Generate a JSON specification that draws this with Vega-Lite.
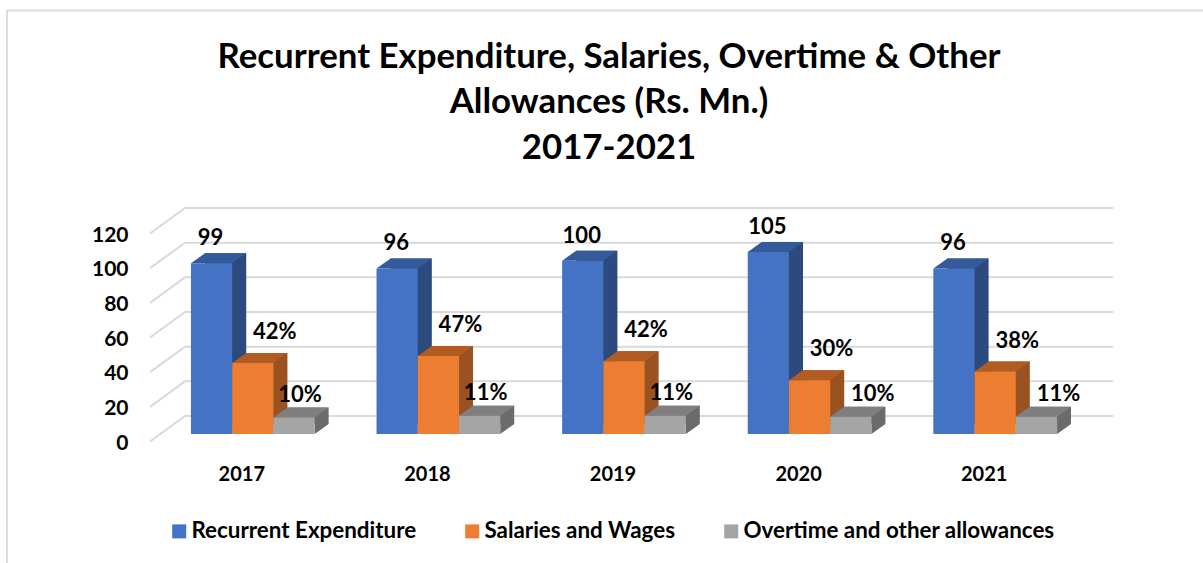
{
"$schema":"https://vega.github.io/schema/vega-lite/v6.json",
"width":928,"height":208,
"autosize":{"type":"none"},
"padding":{"left":160,"top":226,"right":115,"bottom":129},
"background":"white",
"title":{"text":["Recurrent Expenditure, Salaries, Overtime & Other","Allowances (Rs. Mn.)","2017-2021"],"font":"Lato","fontSize":34.8,"fontWeight":"bold","color":"#000000","anchor":"middle","dx":-15,"offset":-160,"lineHeight":45.5},
"datasets":{
"bars":[
{"year":"2017","series":"Recurrent Expenditure","value":98.5,"label":"99"},
{"year":"2017","series":"Salaries and Wages","value":41,"label":"42%"},
{"year":"2017","series":"Overtime and other allowances","value":9.5,"label":"10%"},
{"year":"2018","series":"Recurrent Expenditure","value":95.5,"label":"96"},
{"year":"2018","series":"Salaries and Wages","value":45,"label":"47%"},
{"year":"2018","series":"Overtime and other allowances","value":10.5,"label":"11%"},
{"year":"2019","series":"Recurrent Expenditure","value":100,"label":"100"},
{"year":"2019","series":"Salaries and Wages","value":42,"label":"42%"},
{"year":"2019","series":"Overtime and other allowances","value":10.5,"label":"11%"},
{"year":"2020","series":"Recurrent Expenditure","value":105,"label":"105"},
{"year":"2020","series":"Salaries and Wages","value":31,"label":"30%"},
{"year":"2020","series":"Overtime and other allowances","value":10,"label":"10%"},
{"year":"2021","series":"Recurrent Expenditure","value":95.5,"label":"96"},
{"year":"2021","series":"Salaries and Wages","value":36,"label":"38%"},
{"year":"2021","series":"Overtime and other allowances","value":10,"label":"11%"}
],
"ticks":[{"tick":0},{"tick":20},{"tick":40},{"tick":60},{"tick":80},{"tick":100},{"tick":120}],
"frame":[{"part":"outer frame"}]
},
"resolve":{"scale":{"color":"independent"}},
"layer":[
{"data":{"name":"frame"},"mark":{"type":"point","filled":false,"size":4,"stroke":"#dcdcdc","strokeWidth":2,"opacity":1,"shape":"M-617,233L-617,-319.5L579,-319.5"},"encoding":{}},
{"data":{"name":"ticks"},"mark":{"type":"point","filled":false,"size":4,"stroke":"#d9d9d9","strokeWidth":2,"opacity":1,"shape":"M-474,7.5L-439,-18L489,-18"},
 "encoding":{"y":{"field":"tick","type":"quantitative","title":null,"scale":{"domain":[0,120],"nice":false},"axis":{"values":[0,20,40,60,80,100,120],"tickCount":7,"labelOverlap":false}}}},
{"data":{"name":"bars"},"transform":[{"filter":"datum.series==='Recurrent Expenditure'"}],"mark":{"type":"bar","color":"#2c4a7e","width":{"band":0.3333},"xOffset":-27.2,"yOffset":-10,"y2Offset":-10},
 "encoding":{
 "x":{"field":"year","type":"nominal","scale":{"paddingInner":0.3333,"paddingOuter":0.1667},"axis":{"title":null,"domain":false,"ticks":false,"labelAngle":0,"labelFont":"Lato","labelFontSize":20,"labelFontWeight":"bold","labelColor":"#000000","labelOffset":-11,"labelPadding":30}},
 "y":{"field":"value","type":"quantitative","title":null,"axis":{"values":[0,20,40,60,80,100,120],"tickCount":7,"labelOverlap":false}}
 }},
{"data":{"name":"bars"},"transform":[{"filter":"datum.series==='Salaries and Wages'"}],"mark":{"type":"bar","color":"#9a5220","width":{"band":0.3333},"xOffset":14,"yOffset":-10,"y2Offset":-10},
 "encoding":{"x":{"field":"year","type":"nominal"},"y":{"field":"value","type":"quantitative","title":null,"axis":{"values":[0,20,40,60,80,100,120],"tickCount":7,"labelOverlap":false}}}},
{"data":{"name":"bars"},"transform":[{"filter":"datum.series==='Overtime and other allowances'"}],"mark":{"type":"bar","color":"#6b6b6b","width":{"band":0.3333},"xOffset":55.2,"yOffset":-10,"y2Offset":-10},
 "encoding":{"x":{"field":"year","type":"nominal"},"y":{"field":"value","type":"quantitative","title":null,"axis":{"values":[0,20,40,60,80,100,120],"tickCount":7,"labelOverlap":false}}}},
{"data":{"name":"bars"},"mark":{"type":"point","filled":true,"opacity":1,"size":4,"strokeWidth":0,"shape":"M20.6,0L34.6,-10L20.6,-10Z"},
 "encoding":{
 "x":{"field":"year","type":"nominal"},
 "xOffset":{"field":"series","type":"nominal","scale":{"domain":["Recurrent Expenditure","Salaries and Wages","Overtime and other allowances"],"paddingInner":0,"paddingOuter":0}},
 "y":{"datum":0,"type":"quantitative","title":null,"axis":{"values":[0,20,40,60,80,100,120],"tickCount":7,"labelOverlap":false}},
 "color":{"field":"series","type":"nominal","legend":null,"scale":{"domain":["Recurrent Expenditure","Salaries and Wages","Overtime and other allowances"],"range":["#2c4a7e","#9a5220","#6b6b6b"]}}
 }},
{"data":{"name":"bars"},"mark":{"type":"point","filled":true,"opacity":1,"size":4,"strokeWidth":0,"shape":"M-20.6,0L20.6,0L34.6,-10L-6.6,-10Z"},
 "encoding":{
 "x":{"field":"year","type":"nominal"},
 "xOffset":{"field":"series","type":"nominal"},
 "y":{"field":"value","type":"quantitative","title":null,"axis":{"values":[0,20,40,60,80,100,120],"tickCount":7,"labelOverlap":false}},
 "color":{"field":"series","type":"nominal","legend":null,"scale":{"domain":["Recurrent Expenditure","Salaries and Wages","Overtime and other allowances"],"range":["#355a99","#b25b22","#7f7f7f"]}}
 }},
{"data":{"name":"bars"},"mark":{"type":"bar"},
 "encoding":{
 "x":{"field":"year","type":"nominal"},
 "xOffset":{"field":"series","type":"nominal"},
 "y":{"field":"value","type":"quantitative","title":null,"axis":{"values":[0,20,40,60,80,100,120],"tickCount":7,"labelOverlap":false}},
 "color":{"field":"series","type":"nominal","scale":{"domain":["Recurrent Expenditure","Salaries and Wages","Overtime and other allowances"],"range":["#4472c4","#ed7d31","#a5a5a5"]},
  "legend":{"title":null,"orient":"none","legendX":8,"legendY":294,"direction":"horizontal","columns":3,"symbolType":"square","symbolSize":196,"symbolStrokeWidth":0,"symbolOpacity":1,"labelFont":"Lato","labelFontSize":22.4,"labelFontWeight":"bold","labelColor":"#000000","labelLimit":0,"labelOffset":1,"columnPadding":44}}
 }},
{"data":{"name":"bars"},"transform":[{"filter":"datum.series==='Recurrent Expenditure'"}],"mark":{"type":"text","font":"Lato","fontSize":22,"fontWeight":"bold","color":"#000000","dy":-25,"dx":-1},
 "encoding":{"x":{"field":"year","type":"nominal"},"xOffset":{"field":"series","type":"nominal"},"y":{"field":"value","type":"quantitative","title":null,"axis":{"values":[0,20,40,60,80,100,120],"tickCount":7,"labelOverlap":false}},"text":{"field":"label"}}},
{"data":{"name":"bars"},"transform":[{"filter":"datum.series==='Salaries and Wages'"}],"mark":{"type":"text","font":"Lato","fontSize":22,"fontWeight":"bold","color":"#000000","dx":22,"dy":-31},
 "encoding":{"x":{"field":"year","type":"nominal"},"xOffset":{"field":"series","type":"nominal"},"y":{"field":"value","type":"quantitative","title":null,"axis":{"values":[0,20,40,60,80,100,120],"tickCount":7,"labelOverlap":false}},"text":{"field":"label"}}},
{"data":{"name":"bars"},"transform":[{"filter":"datum.series==='Overtime and other allowances' && datum.year<'2020'"}],"mark":{"type":"text","font":"Lato","fontSize":22,"fontWeight":"bold","color":"#000000","dx":6,"dy":-23},
 "encoding":{"x":{"field":"year","type":"nominal"},"xOffset":{"field":"series","type":"nominal"},"y":{"field":"value","type":"quantitative","title":null,"axis":{"values":[0,20,40,60,80,100,120],"tickCount":7,"labelOverlap":false}},"text":{"field":"label"}}},
{"data":{"name":"bars"},"transform":[{"filter":"datum.series==='Overtime and other allowances' && datum.year>='2020'"}],"mark":{"type":"text","font":"Lato","fontSize":22,"fontWeight":"bold","color":"#000000","dx":22,"dy":-23},
 "encoding":{"x":{"field":"year","type":"nominal"},"xOffset":{"field":"series","type":"nominal"},"y":{"field":"value","type":"quantitative","title":null,"axis":{"values":[0,20,40,60,80,100,120],"tickCount":7,"labelOverlap":false}},"text":{"field":"label"}}}
],
"config":{"view":{"stroke":null},"axisY":{"domain":false,"ticks":false,"grid":false,"labelOverlap":false,"labelSeparation":0,"labelFont":"Lato","labelFontSize":21,"labelFontWeight":"bold","labelColor":"#000000","labelPadding":32,"labelOffset":9}}
}
